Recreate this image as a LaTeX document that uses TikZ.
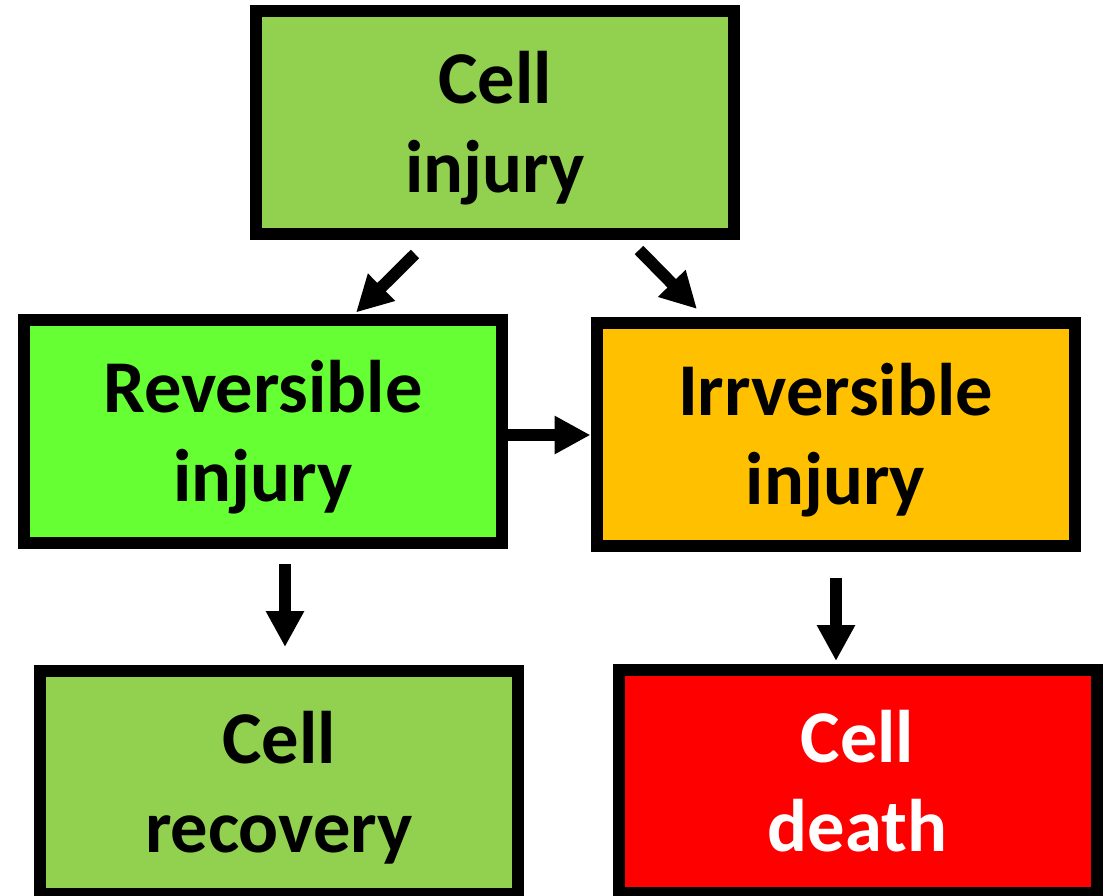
\documentclass[tikz,border=0pt]{standalone}
\usepackage{fontspec}
\setmainfont{Carlito}
\usetikzlibrary{arrows.meta}
\definecolor{cgreen}{HTML}{92D050}
\definecolor{cbright}{HTML}{66FF33}
\definecolor{corange}{HTML}{FFC000}
\definecolor{cred}{HTML}{FF0000}
\tikzset{
  box/.style={draw=black, line width=12bp, minimum width=478bp, minimum height=223bp, inner sep=0pt},
  lbl/.style={anchor=base, align=center, inner sep=0pt, font=\fontsize{74.5bp}{89bp}\selectfont\bfseries},
  arr/.style={line width=12bp, -{Triangle[length=36bp, width=36bp]}}
}
\begin{document}
\begin{tikzpicture}[x=1bp, y=-1bp]
\useasboundingbox (0,0) rectangle (1109,896);
\node[box, fill=cgreen]  (A) at (495,122.5) {};
\node[box, fill=cbright] (B) at (263,431) {};
\node[box, fill=corange] (C) at (835.5,434) {};
\node[box, fill=cgreen]  (D) at (279,782) {};
\node[box, fill=cred]    (E) at (857.5,781.5) {};
\node[lbl] (tA) at ([yshift=-70bp]A.center) {Cell\\injury};
\node[lbl] (tB) at ([yshift=-70bp]B.center) {Reversible\\injury};
\node[lbl] (tC) at ([yshift=-70bp]C.center) {Irrversible\\injury};
\node[lbl] (tD) at ([yshift=-70bp]D.center) {Cell\\recovery};
\node[lbl, text=white] (tE) at ([yshift=-70bp]E.center) {Cell\\death};
\coordinate (s1) at (415,254);
\coordinate (e1) at (356,312.5);
\coordinate (s2) at (639,250);
\coordinate (e2) at (697,309);
\coordinate (s4) at (285,564);
\coordinate (e4) at (285,647);
\coordinate (s5) at (836,578);
\coordinate (e5) at (836,661);
\draw[arr] (s1) -- (e1);
\draw[arr] (s2) -- (e2);
\draw[arr] (B.east |- 0,435) -- (C.west |- 0,435);
\draw[arr] (s4) -- (e4);
\draw[arr] (s5) -- (e5);
\end{tikzpicture}
\end{document}
